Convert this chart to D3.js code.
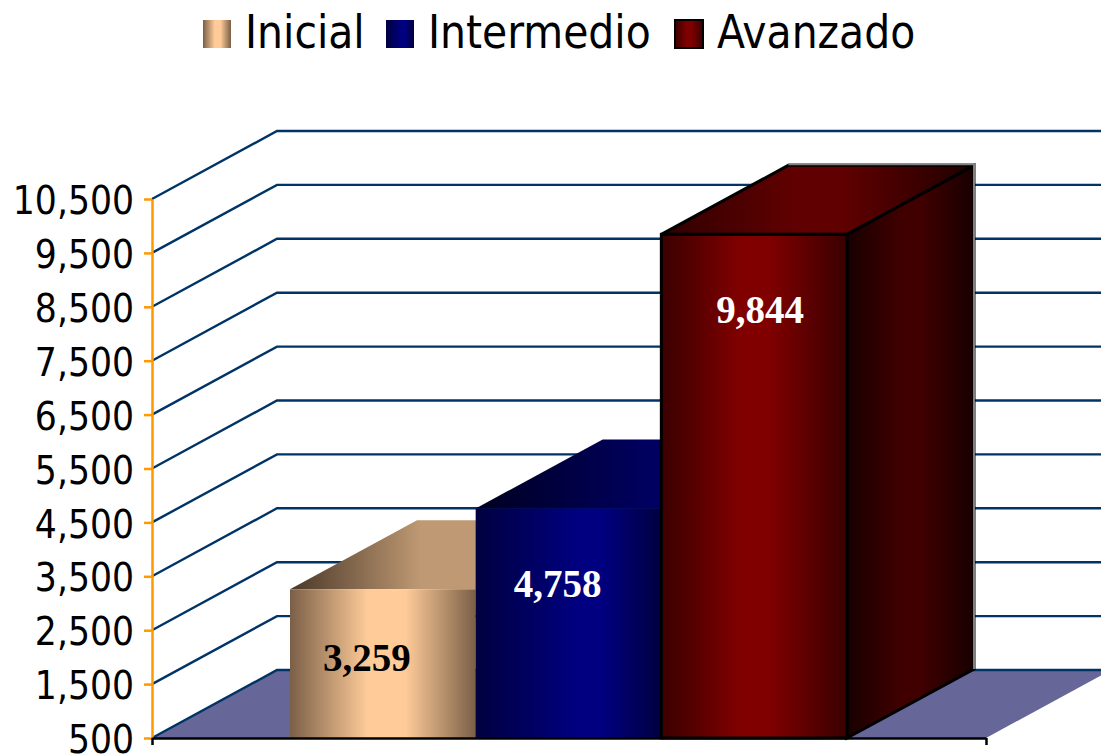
<!DOCTYPE html>
<html>
<head>
<meta charset="utf-8">
<style>
  html, body { margin: 0; padding: 0; background: #fff; overflow: hidden; }
  svg { display: block; }
  text { font-family: "DejaVu Sans Condensed", "DejaVu Sans", sans-serif; }
</style>
</head>
<body>
<div id="chart"></div>
<script src="https://cdnjs.cloudflare.com/ajax/libs/d3/7.8.5/d3.min.js"></script>
<script>
const categories = ["Inicial", "Intermedio", "Avanzado"];
const values = [3259, 4758, 9844];
const tickValues = [500, 1500, 2500, 3500, 4500, 5500, 6500, 7500, 8500, 9500, 10500];

const w = 1101;
const h = 754;

// 3d offset of the back wall and of the bars
const wallDx = 125;
const wallDy = 68;
const barDx = 127;
const barDy = 69;

// scales
const yScale = d3.scaleLinear().domain([500, 10500]).range([738, 199]);
const xScale = d3.scaleBand().domain(categories).range([290, 847]);
const axisScale = d3.scaleLinear().domain([0, 1]).range([152, 986]);

const svg = d3.select("#chart").append("svg")
  .attr("width", w)
  .attr("height", h);

// gradients: dark, light, dark across each face
const faces = [
  { id: "c0", peak: [0.42, 0.62], front: ["#7a5f47", "#ffcc99", "#7a5f47"], top: ["#4a3828", "#bf9973", "#4a3828"], side: ["#3a2c20", "#806650", "#3a2c20"], textColor: "#000", dx: -16 },
  { id: "c1", peak: [0.55, 0.68], front: ["#000040", "#000080", "#000040"], top: ["#000020", "#000060", "#000020"], side: ["#000018", "#000040", "#000018"], textColor: "#fff", dx: -11 },
  { id: "c2", peak: [0.42, 0.58], front: ["#3a0000", "#800000", "#3a0000"], top: ["#300000", "#600000", "#200000"], side: ["#180000", "#400000", "#180000"], textColor: "#fff", dx: 6 }
];

const defs = svg.append("defs");
function addGradient(id, stops, peak) {
  const g = defs.append("linearGradient").attr("id", id)
    .attr("x1", 0).attr("x2", 1).attr("y1", 0).attr("y2", 0);
  g.append("stop").attr("offset", 0).attr("stop-color", stops[0]);
  g.append("stop").attr("offset", peak[0]).attr("stop-color", stops[1]);
  g.append("stop").attr("offset", peak[1]).attr("stop-color", stops[1]);
  g.append("stop").attr("offset", 1).attr("stop-color", stops[2]);
}
faces.forEach((f) => {
  addGradient(f.id + "front", f.front, f.peak);
  addGradient(f.id + "top", f.top, f.peak);
  addGradient(f.id + "side", f.side, f.peak);
});

const pts = (arr) => arr.map((p) => p.join(",")).join(" ");

// floor
const y0 = yScale(500);
svg.append("polygon")
  .attr("points", pts([
    [axisScale(0), y0],
    [axisScale(0) + wallDx, y0 - wallDy],
    [axisScale(1) + wallDx, y0 - wallDy],
    [axisScale(1), y0]
  ]))
  .attr("fill", "#666699");

// gridlines: diagonal on the side wall, flat on the back wall
const grid = svg.append("g")
  .attr("fill", "none")
  .attr("stroke", "#003366")
  .attr("stroke-width", 2.4);
grid.selectAll("polyline")
  .data(tickValues)
  .enter()
  .append("polyline")
  .attr("points", (d) => pts([
    [axisScale(0), yScale(d)],
    [axisScale(0) + wallDx, yScale(d) - wallDy],
    [w, yScale(d) - wallDy]
  ]));

// bars
const bars = svg.selectAll(".bar")
  .data(categories)
  .enter()
  .append("g")
  .attr("class", "bar");

bars.each(function (c, i) {
  const g = d3.select(this);
  const x0 = xScale(c);
  const x1 = x0 + xScale.bandwidth();
  const yTop = yScale(values[i]);
  const outline = i === 2 ? { stroke: "#000", width: 3 } : { stroke: "none", width: 0 };

  g.append("polygon")
    .attr("points", pts([[x1, y0], [x1 + barDx, y0 - barDy], [x1 + barDx, yTop - barDy], [x1, yTop]]))
    .attr("fill", "url(#c" + i + "side)")
    .attr("stroke", outline.stroke).attr("stroke-width", outline.width);
  g.append("polygon")
    .attr("points", pts([[x0, yTop], [x0 + barDx, yTop - barDy], [x1 + barDx, yTop - barDy], [x1, yTop]]))
    .attr("fill", "url(#c" + i + "top)")
    .attr("stroke", outline.stroke).attr("stroke-width", outline.width);
  g.append("rect")
    .attr("x", x0)
    .attr("y", yTop)
    .attr("width", x1 - x0)
    .attr("height", y0 - yTop)
    .attr("fill", "url(#c" + i + "front)")
    .attr("stroke", outline.stroke).attr("stroke-width", outline.width);

  // grey highlight on the tall bar's back edges
  if (i === 2) {
    g.append("polyline")
      .attr("points", pts([
        [x0 + barDx, yTop - barDy - 1],
        [x1 + barDx, yTop - barDy - 1],
        [x1 + barDx, y0 - barDy]
      ]))
      .attr("fill", "none")
      .attr("stroke", "#808080")
      .attr("stroke-width", 2);
  }
});

// data labels
svg.selectAll(".value")
  .data(values)
  .enter()
  .append("text")
  .attr("class", "value")
  .attr("x", (d, i) => xScale(categories[i]) + xScale.bandwidth() / 2 + faces[i].dx)
  .attr("y", (d, i) => (i === 0 ? yScale(d) + 82 : yScale(d) + 89))
  .attr("text-anchor", "middle")
  .style("font-family", "'Liberation Serif', serif")
  .style("font-weight", "bold")
  .style("font-size", "39px")
  .attr("fill", (d, i) => faces[i].textColor)
  .text((d) => d3.format(",")(d));

// axes
const yAxis = d3.axisLeft(yScale)
  .tickValues(tickValues)
  .tickFormat(d3.format(","))
  .tickSizeInner(8)
  .tickSizeOuter(0)
  .tickPadding(10);
const yG = svg.append("g")
  .attr("transform", "translate(" + axisScale(0) + ",0)")
  .call(yAxis);
yG.selectAll("path, line").attr("stroke", "#ff9900").attr("stroke-width", 2.5);
yG.selectAll("text")
  .style("font-size", "38.5px")
  .attr("fill", "#000")
  .attr("dy", "0.38em");

const xAxis = d3.axisBottom(axisScale)
  .tickValues([0, 1])
  .tickFormat("")
  .tickSizeInner(7)
  .tickSizeOuter(0);
const xG = svg.append("g")
  .attr("transform", "translate(0," + y0 + ")")
  .call(xAxis);
xG.selectAll("path, line").attr("stroke", "#000").attr("stroke-width", 2.5);

// legend
const legendX = [203, 386, 675];
const legend = svg.selectAll(".legend")
  .data(categories)
  .enter()
  .append("g")
  .attr("class", "legend")
  .attr("transform", (d, i) => "translate(" + legendX[i] + ",20)");
legend.append("rect")
  .attr("width", 28)
  .attr("height", 28)
  .attr("fill", (d, i) => "url(#c" + i + "front)")
  .attr("stroke", (d, i) => (i === 2 ? "#000" : "none"))
  .attr("stroke-width", 2);
legend.append("text")
  .attr("x", 42)
  .attr("y", 28)
  .style("font-size", "45.5px")
  .attr("fill", "#000")
  .text((d) => d);
</script>
</body>
</html>
